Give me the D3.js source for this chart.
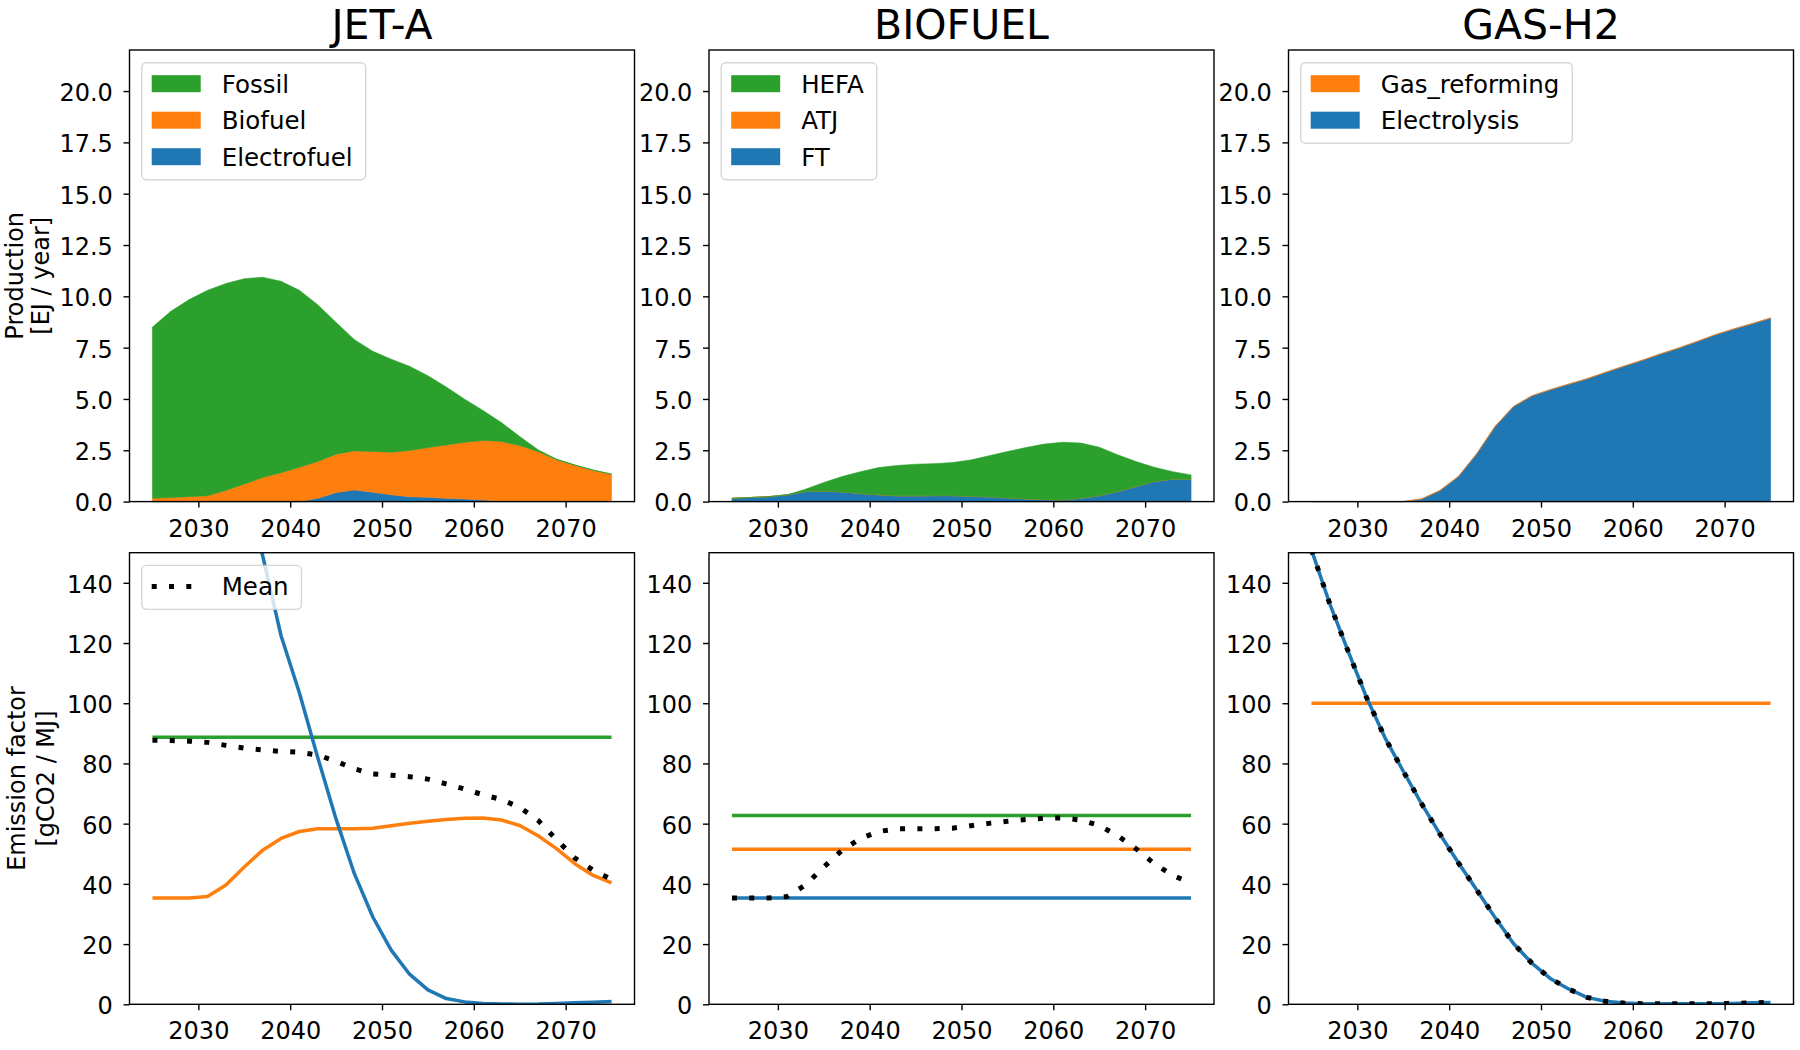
<!DOCTYPE html>
<html>
<head>
<meta charset="utf-8">
<script src="https://cdn.jsdelivr.net/npm/d3@7"></script>
<style>
  body { margin: 0; background: #fff; }
  svg text { font-family: "DejaVu Sans", sans-serif; fill: #000; }
</style>
</head>
<body>
<svg id="chart" width="1800" height="1050"></svg>
<script>
const years = [2025, 2027, 2029, 2031, 2033, 2035, 2037, 2039, 2041, 2043, 2045, 2047, 2049,
               2051, 2053, 2055, 2057, 2059, 2061, 2063, 2065, 2067, 2069, 2071, 2073, 2075];

// production [EJ / year]
const jetElectrofuel = [0, 0, 0, 0, 0, 0, 0, 0, 0, 0.16, 0.44, 0.57, 0.46, 0.33, 0.24, 0.21, 0.16, 0.13, 0.08, 0.03, 0.02, 0.02, 0.02, 0.02, 0.02, 0.02];
const jetBiofuel = [0.16, 0.20, 0.24, 0.29, 0.54, 0.86, 1.17, 1.41, 1.67, 1.79, 1.87, 1.90, 1.98, 2.08, 2.25, 2.42, 2.60, 2.76, 2.90, 2.90, 2.71, 2.42, 2.02, 1.75, 1.50, 1.31];
const jetFossil = [8.34, 9.07, 9.60, 10.00, 10.08, 10.00, 9.76, 9.32, 8.62, 7.64, 6.42, 5.42, 4.88, 4.53, 4.10, 3.50, 2.82, 2.10, 1.46, 0.92, 0.44, 0.08, 0.03, 0.02, 0.02, 0.02];

const bioFT = [0.16, 0.20, 0.24, 0.33, 0.49, 0.52, 0.47, 0.39, 0.33, 0.28, 0.28, 0.29, 0.29, 0.26, 0.23, 0.18, 0.13, 0.10, 0.08, 0.16, 0.29, 0.49, 0.73, 0.98, 1.09, 1.09];
const bioATJ = [0, 0, 0, 0, 0, 0, 0, 0, 0, 0, 0, 0, 0, 0, 0, 0, 0, 0, 0, 0, 0, 0, 0, 0, 0, 0];
const bioHEFA = [0, 0, 0, 0, 0.11, 0.41, 0.75, 1.07, 1.33, 1.48, 1.54, 1.56, 1.61, 1.77, 2.00, 2.26, 2.50, 2.70, 2.81, 2.69, 2.36, 1.79, 1.22, 0.69, 0.37, 0.21];

const h2Electrolysis = [0, 0, 0, 0, 0, 0, 0.13, 0.54, 1.22, 2.33, 3.66, 4.63, 5.15, 5.45, 5.72, 5.98, 6.29, 6.59, 6.88, 7.19, 7.48, 7.80, 8.13, 8.41, 8.67, 8.94];
const h2GasReforming = [0, 0, 0, 0, 0, 0, 0, 0, 0, 0, 0, 0, 0, 0, 0, 0, 0, 0, 0, 0, 0, 0, 0, 0, 0, 0];

// emission factors [gCO2 / MJ]
const jetFossilEf = [88.7, 88.7, 88.7, 88.7, 88.7, 88.7, 88.7, 88.7, 88.7, 88.7, 88.7, 88.7, 88.7, 88.7, 88.7, 88.7, 88.7, 88.7, 88.7, 88.7, 88.7, 88.7, 88.7, 88.7, 88.7, 88.7];
const jetElectrofuelEf = [313, 283, 254, 226, 199, 173, 149, 122.5, 103.5, 82, 61.5, 43.3, 29, 18, 10, 4.8, 1.9, 0.8, 0.3, 0.1, 0.05, 0.1, 0.3, 0.5, 0.7, 0.9];
const jetMeanEf = [87.7, 87.6, 87.4, 87.0, 86.0, 85.1, 84.5, 84.0, 83.7, 82.8, 80.7, 78.2, 76.5, 76.1, 75.6, 74.8, 73.2, 71.5, 69.6, 68.0, 65.4, 61.1, 54.7, 48.6, 44.5, 41.5];

const bioHefaEf = [62.7, 62.7, 62.7, 62.7, 62.7, 62.7, 62.7, 62.7, 62.7, 62.7, 62.7, 62.7, 62.7, 62.7, 62.7, 62.7, 62.7, 62.7, 62.7, 62.7, 62.7, 62.7, 62.7, 62.7, 62.7, 62.7];
const bioAtjEf = [51.5, 51.5, 51.5, 51.5, 51.5, 51.5, 51.5, 51.5, 51.5, 51.5, 51.5, 51.5, 51.5, 51.5, 51.5, 51.5, 51.5, 51.5, 51.5, 51.5, 51.5, 51.5, 51.5, 51.5, 51.5, 51.5];
const bioFtEf = [35.3, 35.3, 35.3, 35.3, 35.3, 35.3, 35.3, 35.3, 35.3, 35.3, 35.3, 35.3, 35.3, 35.3, 35.3, 35.3, 35.3, 35.3, 35.3, 35.3, 35.3, 35.3, 35.3, 35.3, 35.3, 35.3];
// biofuel mean is also the "Biofuel" line of JET-A
const bioMeanEf = [35.3, 35.3, 35.3, 35.8, 39.6, 45.6, 51.2, 55.1, 57.4, 58.3, 58.3, 58.3, 58.5, 59.3, 60.1, 60.8, 61.4, 61.8, 61.9, 61.2, 59.4, 56.0, 51.7, 46.7, 42.8, 40.3];

const h2GasEf = [100, 100, 100, 100, 100, 100, 100, 100, 100, 100, 100, 100, 100, 100, 100, 100, 100, 100, 100, 100, 100, 100, 100, 100, 100, 100];
const h2ElecEf = [151, 133, 117.2, 101.9, 88.6, 77.4, 66.6, 56.5, 47, 38, 28.8, 20.2, 13.7, 8.6, 5.1, 2.3, 1.0, 0.4, 0.2, 0.2, 0.2, 0.2, 0.2, 0.3, 0.5, 0.6];
const h2MeanEf = [151, 133, 117.2, 101.9, 88.6, 77.4, 66.6, 56.5, 47, 38, 28.8, 20.2, 13.7, 8.6, 5.1, 2.3, 1.0, 0.4, 0.2, 0.2, 0.2, 0.2, 0.2, 0.3, 0.5, 0.6];

const titles = ['JET-A', 'BIOFUEL', 'GAS-H2'];
const xTicks = [2030, 2040, 2050, 2060, 2070];
const prodTicks = [0, 2.5, 5, 7.5, 10, 12.5, 15, 17.5, 20];
const efTicks = [0, 20, 40, 60, 80, 100, 120, 140];

const green = '#2ca02c', orange = '#ff7f0e', blue = '#1f77b4';

// stacks listed bottom to top, legend shows them top to bottom
const prodPanels = [
    [{ name: 'Electrofuel', values: jetElectrofuel, color: blue },
     { name: 'Biofuel', values: jetBiofuel, color: orange },
     { name: 'Fossil', values: jetFossil, color: green }],
    [{ name: 'FT', values: bioFT, color: blue },
     { name: 'ATJ', values: bioATJ, color: orange },
     { name: 'HEFA', values: bioHEFA, color: green }],
    [{ name: 'Electrolysis', values: h2Electrolysis, color: blue },
     { name: 'Gas_reforming', values: h2GasReforming, color: orange }]
];

const efPanels = [
    [{ values: jetFossilEf, color: green }, { values: bioMeanEf, color: orange },
     { values: jetElectrofuelEf, color: blue }, { values: jetMeanEf, mean: true }],
    [{ values: bioHefaEf, color: green }, { values: bioAtjEf, color: orange },
     { values: bioFtEf, color: blue }, { values: bioMeanEf, mean: true }],
    [{ values: h2GasEf, color: orange }, { values: h2ElecEf, color: blue },
     { values: h2MeanEf, mean: true }]
];

// layout
const fs = 24;
const legendFs = 24.5;
const colLeft = [129.5, 709, 1288.5];
const panelW = 505;
const rowTop = [50, 552.7];
const panelH = 451.6;
const xDomain = [2022.5, 2077.5];
const meanDash = '5,12.3';

const svg = d3.select('#chart');

function frame(g, x, y, yTicks, fmt) {
    const xAxis = d3.axisBottom(x).tickValues(xTicks).tickSize(6).tickPadding(12).tickSizeOuter(0).tickFormat(d3.format('d'));
    const yAxis = d3.axisLeft(y).tickValues(yTicks).tickSize(6).tickPadding(10.7).tickSizeOuter(0).tickFormat(fmt);
    const [y0] = y.range();
    const gx = g.append('g').attr('transform', `translate(0,${y0})`).call(xAxis);
    const gy = g.append('g').attr('transform', `translate(${x.range()[0]},0)`).call(yAxis);
    for (const a of [gx, gy]) {
        a.select('.domain').remove();
        a.selectAll('line').attr('stroke', '#000').attr('stroke-width', 1.4);
        a.selectAll('text').attr('font-size', fs).attr('font-family', 'DejaVu Sans');
    }
    gy.selectAll('text').attr('dy', '0.39em');
    const [xl, xr] = x.range();
    g.append('rect')
        .attr('x', xl).attr('y', y.range()[1])
        .attr('width', xr - xl).attr('height', y.range()[0] - y.range()[1])
        .attr('fill', 'none').attr('stroke', '#000').attr('stroke-width', 1.4);
}

function legend(g, left, top, items) {
    const bx = left + 12.2, by = top + 12.7;
    const lg = g.append('g');
    const box = lg.append('rect');
    let maxW = 0;
    items.forEach((it, i) => {
        const cy = by + 21 + i * 36.5;
        if (it.mean) {
            lg.append('line')
                .attr('x1', bx + 10).attr('x2', bx + 59).attr('y1', cy).attr('y2', cy)
                .attr('stroke', '#000').attr('stroke-width', 5).attr('stroke-dasharray', meanDash);
        } else {
            lg.append('rect')
                .attr('x', bx + 10).attr('y', cy - 8.5).attr('width', 49).attr('height', 17)
                .attr('fill', it.color);
        }
        const t = lg.append('text')
            .attr('x', bx + 80).attr('y', cy + 8.8)
            .attr('font-size', legendFs)
            .text(it.name);
        maxW = Math.max(maxW, t.node().getComputedTextLength());
    });
    box.attr('x', bx).attr('y', by)
        .attr('width', 80 + maxW + 13)
        .attr('height', 44 + (items.length - 1) * 36.5)
        .attr('rx', 4.8)
        .attr('fill', '#fff').attr('fill-opacity', 0.8)
        .attr('stroke', '#cccccc').attr('stroke-opacity', 0.8).attr('stroke-width', 1.4);
}

function ylabel(lines, xs, cy) {
    lines.forEach((s, i) => {
        svg.append('text')
            .attr('transform', `translate(${xs[i]},${cy}) rotate(-90)`)
            .attr('text-anchor', 'middle')
            .attr('font-size', fs)
            .text(s);
    });
}

// top row: production stacks
prodPanels.forEach((layers, c) => {
    const left = colLeft[c];
    const x = d3.scaleLinear().domain(xDomain).range([left, left + panelW]);
    const y = d3.scaleLinear().domain([0, 22]).range([rowTop[0] + panelH, rowTop[0]]);
    const g = svg.append('g');

    const rows = years.map((yr, i) => {
        const r = { year: yr };
        layers.forEach(l => { r[l.name] = l.values[i]; });
        return r;
    });
    const stacked = d3.stack().keys(layers.map(l => l.name))(rows);
    const area = d3.area()
        .x(d => x(d.data.year))
        .y0(d => y(d[0]))
        .y1(d => y(d[1]));

    g.selectAll('path.layer')
        .data(stacked)
        .join('path')
        .attr('class', 'layer')
        .attr('d', area)
        .attr('fill', (d, i) => layers[i].color)
        .attr('stroke', (d, i) => layers[i].color)
        .attr('stroke-width', 0.6);

    frame(g, x, y, prodTicks, d3.format('.1f'));

    svg.append('text')
        .attr('x', left + panelW / 2).attr('y', 38.5)
        .attr('text-anchor', 'middle')
        .attr('font-size', 41)
        .text(titles[c]);

    legend(g, left, rowTop[0], layers.slice().reverse());
});

// bottom row: emission factors
efPanels.forEach((series, c) => {
    const left = colLeft[c];
    const x = d3.scaleLinear().domain(xDomain).range([left, left + panelW]);
    const y = d3.scaleLinear().domain([0, 150]).range([rowTop[1] + panelH, rowTop[1]]);
    const g = svg.append('g');

    const clipId = 'clip' + c;
    svg.append('clipPath').attr('id', clipId)
        .append('rect')
        .attr('x', left).attr('y', rowTop[1])
        .attr('width', panelW).attr('height', panelH);

    const line = d3.line()
        .x((d, i) => x(years[i]))
        .y(d => y(d));

    const plot = g.append('g').attr('clip-path', `url(#${clipId})`);
    series.forEach(s => {
        const p = plot.append('path')
            .attr('d', line(s.values))
            .attr('fill', 'none');
        if (s.mean) {
            p.attr('stroke', '#000').attr('stroke-width', 5).attr('stroke-dasharray', meanDash);
        } else {
            p.attr('stroke', s.color).attr('stroke-width', 3.5).attr('stroke-linejoin', 'round');
        }
    });

    frame(g, x, y, efTicks, d3.format('d'));

    if (c === 0) legend(g, left, rowTop[1], [{ name: 'Mean', mean: true }]);
});

ylabel(['Production', '[EJ / year]'], [22.5, 49], rowTop[0] + panelH / 2);
ylabel(['Emission factor', '[gCO2 / MJ]'], [24.5, 54], rowTop[1] + panelH / 2);
</script>
</body>
</html>
